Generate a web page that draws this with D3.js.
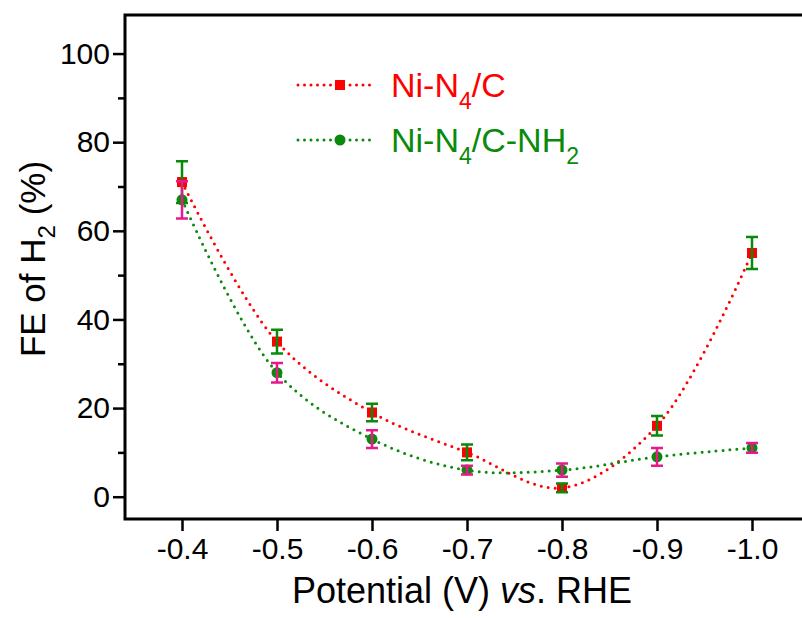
<!DOCTYPE html>
<html>
<head>
<meta charset="utf-8">
<script src="https://cdn.jsdelivr.net/npm/d3@7/dist/d3.min.js"></script>
<style>
html,body{margin:0;padding:0;background:#fff;}
svg{display:block;}
text{font-family:"Liberation Sans",Arial,sans-serif;}
</style>
</head>
<body>
<svg id="chart" width="802" height="618"></svg>
<script>
// ---- data ----
const potentials = [-0.4, -0.5, -0.6, -0.7, -0.8, -0.9, -1.0];
const feNiN4C = [71, 35, 19, 10, 2, 16, 55];
const errNiN4C = [4.7, 2.7, 2.0, 1.8, 1.0, 2.2, 3.6];
const feNiN4CNH2 = [67, 28, 13, 6, 6, 9, 11];
const errNiN4CNH2 = [4.2, 2.2, 2.0, 1.0, 1.5, 2.0, 1.1];
const yTicks = [0, 20, 40, 60, 80, 100];
const yMinorTicks = [10, 30, 50, 70, 90];
const xTickLabels = ["-0.4", "-0.5", "-0.6", "-0.7", "-0.8", "-0.9", "-1.0"];

const RED = "#ff0000", GREEN = "#0a8a0a", MAGENTA = "#e8198c";

const svg = d3.select("#chart");
const L = 125, T = 15, B = 519, R = 830;
const x = d3.scaleLinear().domain([-0.34, -0.34 - (R - L) / 950]).range([L, R]);
const y = d3.scaleLinear().domain([-5.03, 108.7]).range([B, T]);

// axes
const yAxis = d3.axisLeft(y).tickValues(yTicks).tickSize(12).tickPadding(3).tickFormat(d3.format("d"));
const yMinor = d3.axisLeft(y).tickValues(yMinorTicks).tickSize(7).tickFormat("");
const xAxis = d3.axisBottom(x).tickValues(potentials).tickSize(12).tickPadding(7)
  .tickFormat((d, i) => xTickLabels[i]);

const gy = svg.append("g").attr("transform", `translate(${L},0)`).call(yAxis);
svg.append("g").attr("transform", `translate(${L},0)`).call(yMinor);
const gx = svg.append("g").attr("transform", `translate(0,${B})`).call(xAxis);
svg.selectAll(".domain").remove();
svg.selectAll(".tick line").attr("stroke", "#000").attr("stroke-width", 2.5);
gy.selectAll("text").attr("font-size", 30).attr("fill", "#000");
gx.selectAll("text").attr("font-size", 30).attr("fill", "#000");

// frame
svg.append("path").attr("d", `M${R},${T}H${L}V${B}H${R}`)
  .attr("fill", "none").attr("stroke", "#000").attr("stroke-width", 3);

// series
const series = [
  {vals: feNiN4C, errs: errNiN4C, color: RED, errColor: GREEN, marker: "square"},
  {vals: feNiN4CNH2, errs: errNiN4CNH2, color: GREEN, errColor: MAGENTA, marker: "circle"}
];
const line = d3.line().x(d => x(d[0])).y(d => y(d[1])).curve(d3.curveCatmullRom.alpha(0.5));

series.forEach(s => {
  const pts = potentials.map((p, i) => [p, s.vals[i]]);
  svg.append("path").attr("d", line(pts)).attr("fill", "none")
    .attr("stroke", s.color).attr("stroke-width", 3)
    .attr("stroke-linecap", "round").attr("stroke-dasharray", "0 7");
});
series.forEach(s => {
  const g = svg.append("g");
  potentials.forEach((p, i) => {
    const cx = x(p), cy = y(s.vals[i]);
    if (s.marker === "square") {
      g.append("rect").attr("x", cx - 5).attr("y", cy - 5).attr("width", 10).attr("height", 10).attr("fill", s.color);
    } else {
      g.append("circle").attr("cx", cx).attr("cy", cy).attr("r", 5.5).attr("fill", s.color);
    }
  });
  potentials.forEach((p, i) => {
    const cx = x(p), y1 = y(s.vals[i] + s.errs[i]), y0 = y(s.vals[i] - s.errs[i]);
    g.append("path").attr("d", `M${cx},${y1}V${y0}M${cx - 6},${y1}H${cx + 6}M${cx - 6},${y0}H${cx + 6}`)
      .attr("fill", "none").attr("stroke", s.errColor).attr("stroke-width", 2.5);
  });
});

// legend
const leg = [
  {name: ["Ni-N", "4", "/C"], color: RED, marker: "square", ly: 85},
  {name: ["Ni-N", "4", "/C-NH", "2"], color: GREEN, marker: "circle", ly: 140}
];
leg.forEach(l => {
  svg.append("line").attr("x1", 298).attr("x2", 376).attr("y1", l.ly).attr("y2", l.ly)
    .attr("stroke", l.color).attr("stroke-width", 3).attr("stroke-linecap", "round").attr("stroke-dasharray", "0 6.5");
  if (l.marker === "square") svg.append("rect").attr("x", 335).attr("y", l.ly - 5).attr("width", 10).attr("height", 10).attr("fill", l.color);
  else svg.append("circle").attr("cx", 340).attr("cy", l.ly).attr("r", 5.5).attr("fill", l.color);
  const t = svg.append("text").attr("x", 391).attr("y", l.ly + 12).attr("font-size", 34).attr("fill", l.color);
  l.name.forEach((part, k) => {
    const sp = t.append("tspan").text(part);
    if (k % 2 === 1) sp.attr("font-size", 23).attr("dy", 12);
    else if (k > 0) sp.attr("dy", -12);
  });
});

// axis titles
const xt = svg.append("text").attr("x", 462).attr("y", 603).attr("text-anchor", "middle").attr("font-size", 36).attr("fill", "#000");
xt.append("tspan").text("Potential (V) ");
xt.append("tspan").text("vs").attr("font-style", "italic");
xt.append("tspan").text(". RHE");

const yt = svg.append("text").attr("transform", "translate(45,259) rotate(-90)").attr("text-anchor", "middle").attr("font-size", 35).attr("fill", "#000");
yt.append("tspan").text("FE of H");
yt.append("tspan").text("2").attr("font-size", 24).attr("dy", 10);
yt.append("tspan").text(" (%)").attr("dy", -10);
</script>
</body>
</html>
